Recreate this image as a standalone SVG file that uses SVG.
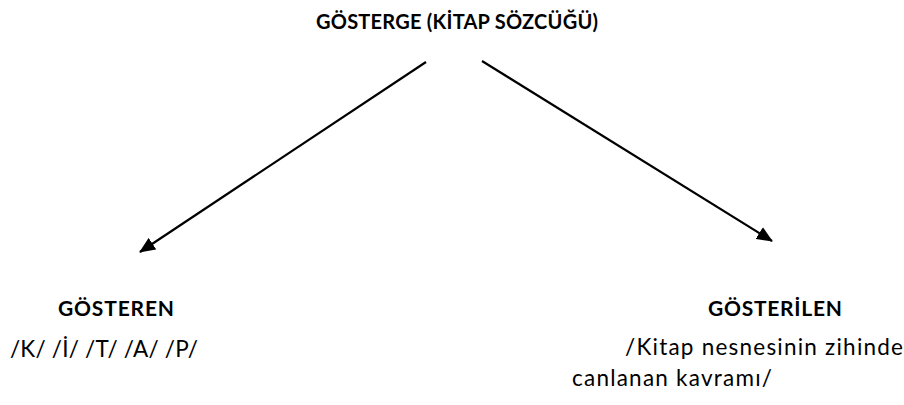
<svg xmlns="http://www.w3.org/2000/svg" width="904" height="405" viewBox="0 0 904 405">
<style>
text{font-family:Lato,"Open Sans","Liberation Sans",sans-serif;fill:#000;font-size:22.5px}
.b{font-weight:bold;font-size:21px}
.t{font-size:20px}
.c{stroke:#000;stroke-width:2.2;fill:none}
</style>
<defs>
<marker id="ah" markerWidth="16" markerHeight="14" refX="15" refY="7" orient="auto" markerUnits="userSpaceOnUse" viewBox="0 0 16 14">
<path d="M0,0 L16,7 L0,14 z" fill="#000"/>
</marker>
</defs>
<rect width="904" height="405" fill="#fff"/>
<g id="gosterge"><text class="b t" x="316" y="29" textLength="282">GÖSTERGE (KİTAP SÖZCÜĞÜ)</text></g>
<g id="gosteren">
<text class="b" x="58" y="316" textLength="116">GÖSTEREN</text>
<text x="10" y="357" textLength="188">/K/ /İ/ /T/ /A/ /P/</text>
</g>
<g id="gosterilen">
<text class="b" x="708" y="316" textLength="134">GÖSTERİLEN</text>
<text x="625" y="355" textLength="278">/Kitap nesnesinin zihinde</text>
<text x="572" y="386" textLength="200">canlanan kavramı/</text>
</g>
<g id="connectors">
<line class="c" x1="426" y1="62" x2="140" y2="252" marker-end="url(#ah)"/>
<line class="c" x1="482" y1="61" x2="772" y2="241" marker-end="url(#ah)"/>
</g>
</svg>
